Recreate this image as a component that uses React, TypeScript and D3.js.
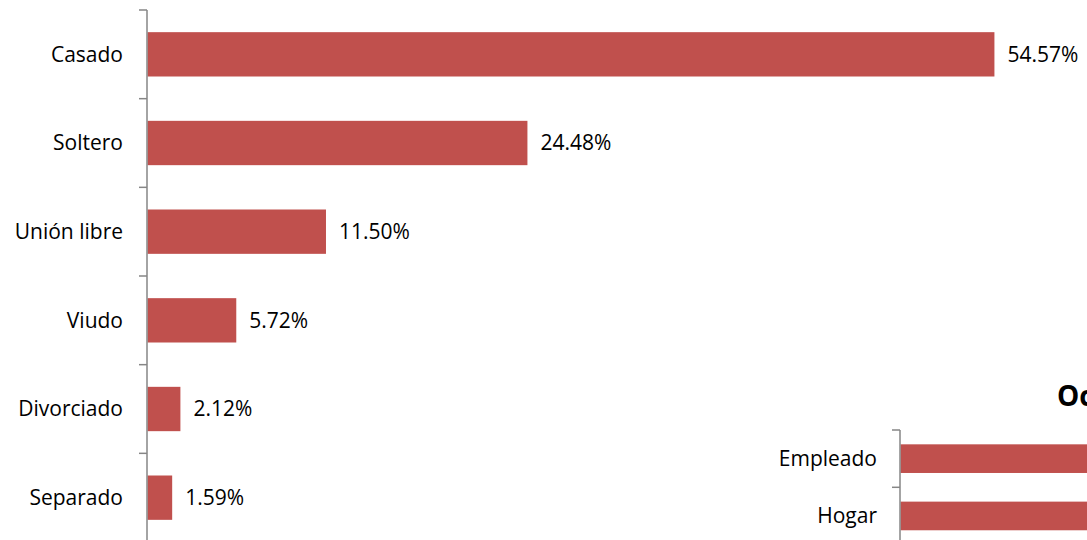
import React from "react";
import * as d3 from "d3";

const estadoCategories = ["Casado", "Soltero", "Unión libre", "Viudo", "Divorciado", "Separado"];
const estadoValues = [54.57, 24.48, 11.5, 5.72, 2.12, 1.59];

const ocupacionTitle = "Ocupación";
const ocupacionCategories = ["Empleado", "Hogar"];
const ocupacionValues = [45.2, 38.6];

const W = 1087;
const H = 540;
const BAR = "#C0504D";
const AXIS = "#868686";
const FONT = "'Open Sans', 'Noto Sans', sans-serif";

export default function App() {
  // Chart 1: Estado civil
  const x1 = d3.scaleLinear().domain([0, 60]).range([147.5, 147.5 + 60 * 15.52]);
  const y1 = d3
    .scaleBand<string>()
    .domain(estadoCategories)
    .range([10, 542])
    .paddingInner(0.5)
    .paddingOuter(0.25);
  const step1 = y1.step();
  const ticks1 = d3.range(estadoCategories.length + 1).map((i) => 10 + i * step1);

  // Chart 2: Ocupación (partially visible)
  const x2 = d3.scaleLinear().domain([0, 50]).range([900.5, 900.5 + 50 * 15.52]);
  const y2 = d3
    .scaleBand<string>()
    .domain(ocupacionCategories)
    .range([430, 430 + 57.3 * ocupacionCategories.length])
    .paddingInner(0.5)
    .paddingOuter(0.25);
  const step2 = y2.step();
  const ticks2 = d3.range(ocupacionCategories.length + 1).map((i) => 430 + i * step2);

  const fmt = (v: number) => v.toFixed(2) + "%";

  return (
    <svg
      width={W}
      height={H}
      style={{ position: "absolute", left: 0, top: 0, background: "#fff" }}
      fontFamily={FONT}
    >
      <rect x={0} y={0} width={W} height={H} fill="#fff" />
      {/* Chart 1 */}
      <g>
        {estadoCategories.map((c, i) => (
          <g key={c}>
            <rect
              x={x1(0)}
              y={y1(c)!}
              width={x1(estadoValues[i]) - x1(0)}
              height={y1.bandwidth()}
              fill={BAR}
            />
            <text
              x={x1(estadoValues[i]) + 13}
              y={y1(c)! + y1.bandwidth() / 2}
              dy="0.35em"
              fontSize={21}
              fill="#000"
            >
              {fmt(estadoValues[i])}
            </text>
            <text
              x={123}
              y={y1(c)! + y1.bandwidth() / 2}
              dy="0.35em"
              fontSize={21}
              textAnchor="end"
              fill="#000"
            >
              {c}
            </text>
          </g>
        ))}
        <line x1={147} x2={147} y1={10} y2={H} stroke={AXIS} strokeWidth={1.5} />
        {ticks1.map((t, i) => (
          <line key={i} x1={139} x2={147} y1={t} y2={t} stroke={AXIS} strokeWidth={1.5} />
        ))}
      </g>
      {/* Chart 2 */}
      <g>
        <text x={1057} y={406} fontSize={28} fontWeight="bold" fill="#000">
          {ocupacionTitle}
        </text>
        {ocupacionCategories.map((c, i) => (
          <g key={c}>
            <rect
              x={x2(0)}
              y={y2(c)!}
              width={x2(ocupacionValues[i]) - x2(0)}
              height={y2.bandwidth()}
              fill={BAR}
            />
            <text
              x={877}
              y={y2(c)! + y2.bandwidth() / 2}
              dy="0.35em"
              fontSize={21}
              textAnchor="end"
              fill="#000"
            >
              {c}
            </text>
          </g>
        ))}
        <line x1={900} x2={900} y1={430} y2={H} stroke={AXIS} strokeWidth={1.5} />
        {ticks2.map((t, i) => (
          <line key={i} x1={892} x2={900} y1={t} y2={t} stroke={AXIS} strokeWidth={1.5} />
        ))}
      </g>
    </svg>
  );
}
